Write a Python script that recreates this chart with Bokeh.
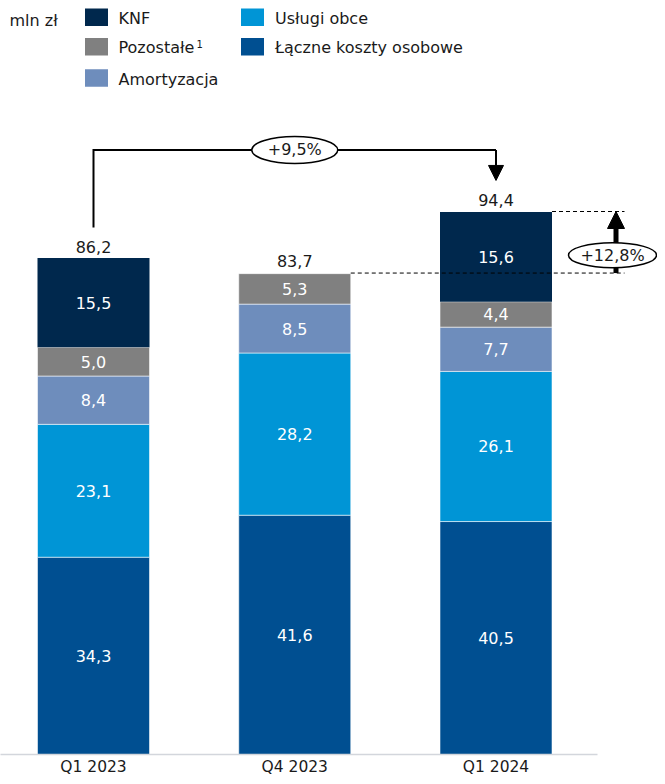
from bokeh.plotting import figure
from bokeh.models import Range1d, ColumnDataSource, FixedTicker, Arrow, NormalHead
from bokeh.core.properties import value
from bokeh.embed import file_html
from bokeh.resources import INLINE

# ---------------- data ----------------
categories = ["Q1 2023", "Q4 2023", "Q1 2024"]
laczne_koszty = [34.3, 41.6, 40.5]     # Łączne koszty osobowe
uslugi_obce = [23.1, 28.2, 26.1]       # Usługi obce
amortyzacja = [8.4, 8.5, 7.7]          # Amortyzacja
pozostale = [5.0, 5.3, 4.4]            # Pozostałe
knf = [15.5, 0.0, 15.6]                # KNF
totals = [86.2, 83.7, 94.4]

series_names = ["Łączne koszty osobowe", "Usługi obce", "Amortyzacja", "Pozostałe", "KNF"]
series_values = [laczne_koszty, uslugi_obce, amortyzacja, pozostale, knf]
series_colors = ["#004F91", "#0095D6", "#6E8DBC", "#808080", "#00284D"]

FONT = value("DejaVu Sans")
FS = "16px"

# ---------------- layout ----------------
FW, FH = 657, 754          # frame size in px
U = 201.25                 # px per category
X0PX = 93                  # px position of first category centre
S = 5.752                  # px per mln zł
BW = 112 / U               # bar width in x units

xs = -X0PX / U
xe = xs + FW / U
ye = FH / S


def px_x(px):
    return xs + px / U


def px_y(py):
    return ye - py / S


def fmt(v):
    return f"{v:.1f}".replace(".", ",")


p = figure(frame_width=FW, frame_height=FH, x_range=Range1d(xs, xe), y_range=Range1d(0, ye),
           output_backend="svg", toolbar_location=None, min_border=0,
           y_axis_location=None, outline_line_color=None, background_fill_color="white",
           border_fill_color="white")
p.xgrid.visible = False
p.ygrid.visible = False

xpos = list(range(len(categories)))
keys = ["laczne", "uslugi", "amort", "pozostale", "knf"]
data = {"x": xpos}
for k, vals in zip(keys, series_values):
    data[k] = vals
source = ColumnDataSource(data)

p.vbar_stack(keys, x="x", width=BW, fill_color=series_colors,
             line_color=["white", "white", "white", "white", None],
             line_alpha=0.55, line_width=1, source=source)

# segment labels
lx, ly, lt = [], [], []
for i in xpos:
    cum = 0.0
    for vals in series_values:
        v = vals[i]
        if v > 0:
            lx.append(i)
            ly.append(cum + v / 2)
            lt.append(fmt(v))
        cum += v
p.text(x=lx, y=ly, text=lt, text_color="white", text_align="center", text_baseline="middle",
       text_font=FONT, text_font_size=FS)

# totals
p.text(x=xpos, y=totals, text=[fmt(t) for t in totals], text_color="#1a1a1a",
       text_align="center", text_baseline="alphabetic", y_offset=-12,
       text_font=FONT, text_font_size=FS)

# ---- growth bracket Q1 2023 -> Q1 2024 ----
g_yoy = (totals[2] / totals[0] - 1) * 100
g_qoq = (totals[2] / totals[1] - 1) * 100
top = max(totals) + 10.7
p.line(x=[0, 0, 2], y=[totals[0] + 5.4, top, top], line_color="black", line_width=2,
       line_join="miter")
p.add_layout(Arrow(x_start=2, y_start=top, x_end=2, y_end=totals[2] + 5.4,
                   line_color="black", line_width=2, level="underlay",
                   end=NormalHead(size=15, fill_color="black", line_color="black")))
p.ellipse(x=[1], y=[top], width=86, height=27, width_units="screen", height_units="screen",
          fill_color="white", line_color="black", line_width=1.5)
p.text(x=[1], y=[top], text=["+" + fmt(g_yoy) + "%"], text_align="center", text_baseline="middle",
       text_color="#1a1a1a", text_font=FONT, text_font_size=FS)

# ---- growth Q4 2023 -> Q1 2024 ----
xd = px_x(624)
p.segment(x0=[2 + BW / 2, 1 + BW / 2], y0=[totals[2], totals[1]], x1=[xd, xd],
          y1=[totals[2], totals[1]], line_color="black", line_width=1, line_dash="4 3")
xa = px_x(615.5)
p.add_layout(Arrow(x_start=xa, y_start=totals[1], x_end=xa, y_end=totals[2],
                   line_color="black", line_width=5, level="underlay",
                   end=NormalHead(size=17, fill_color="black", line_color="black")))
ey = totals[1] + 3.1
ex = px_x(612)
p.ellipse(x=[ex], y=[ey], width=88, height=25, width_units="screen", height_units="screen",
          fill_color="white", line_color="black", line_width=1.5)
p.text(x=[ex], y=[ey], text=["+" + fmt(g_qoq) + "%"], text_align="center", text_baseline="middle",
       text_color="#1a1a1a", text_font=FONT, text_font_size=FS)

# ---- legend (manual) ----
legend_order = [4, 3, 2, 1, 0]   # KNF, Pozostałe, Amortyzacja | Usługi obce, Łączne
col_sq_x = [96, 252]
col_tx_x = [118, 274.5]
row_y = [16.7, 46.2, 77.6]
sq_x, sq_y, sq_c, tx_x, tx_y, tx_t = [], [], [], [], [], []
for n, si in enumerate(legend_order):
    col, row = (0, n) if n < 3 else (1, n - 3)
    sq_x.append(px_x(col_sq_x[col]))
    sq_y.append(px_y(row_y[row]))
    sq_c.append(series_colors[si])
    tx_x.append(px_x(col_tx_x[col]))
    tx_y.append(px_y(row_y[row]))
    tx_t.append(series_names[si])
p.rect(x=sq_x, y=sq_y, width=23, height=17.5, width_units="screen", height_units="screen",
       fill_color=sq_c, line_color=None)
p.text(x=tx_x, y=tx_y, text=tx_t, text_align="left", text_baseline="middle", y_offset=1,
       text_color="#1a1a1a", text_font=FONT, text_font_size="16px")
p.text(x=[px_x(196)], y=[px_y(43.5)], text=["1"], text_align="left", text_baseline="middle",
       text_color="#1a1a1a", text_font=FONT, text_font_size="10px")
p.text(x=[px_x(9)], y=[px_y(20)], text=["mln zł"], text_align="left", text_baseline="middle",
       text_color="#1a1a1a", text_font=FONT, text_font_size="16px")

# ---- x axis ----
ax = p.xaxis[0]
ax.ticker = FixedTicker(ticks=xpos)
ax.major_label_overrides = {i: c for i, c in zip(xpos, categories)}
ax.bounds = (xs, px_x(597))
ax.axis_line_color = "#d3d6dc"
ax.axis_line_width = 1.5
ax.major_tick_line_color = None
ax.minor_tick_line_color = None
ax.major_tick_out = 0
ax.major_tick_in = 0
ax.major_label_standoff = 3
ax.major_label_text_font = "DejaVu Sans"
ax.major_label_text_font_size = "15.5px"
ax.major_label_text_color = "#1a1a1a"

open("out.html", "w").write(file_html(p, INLINE))
